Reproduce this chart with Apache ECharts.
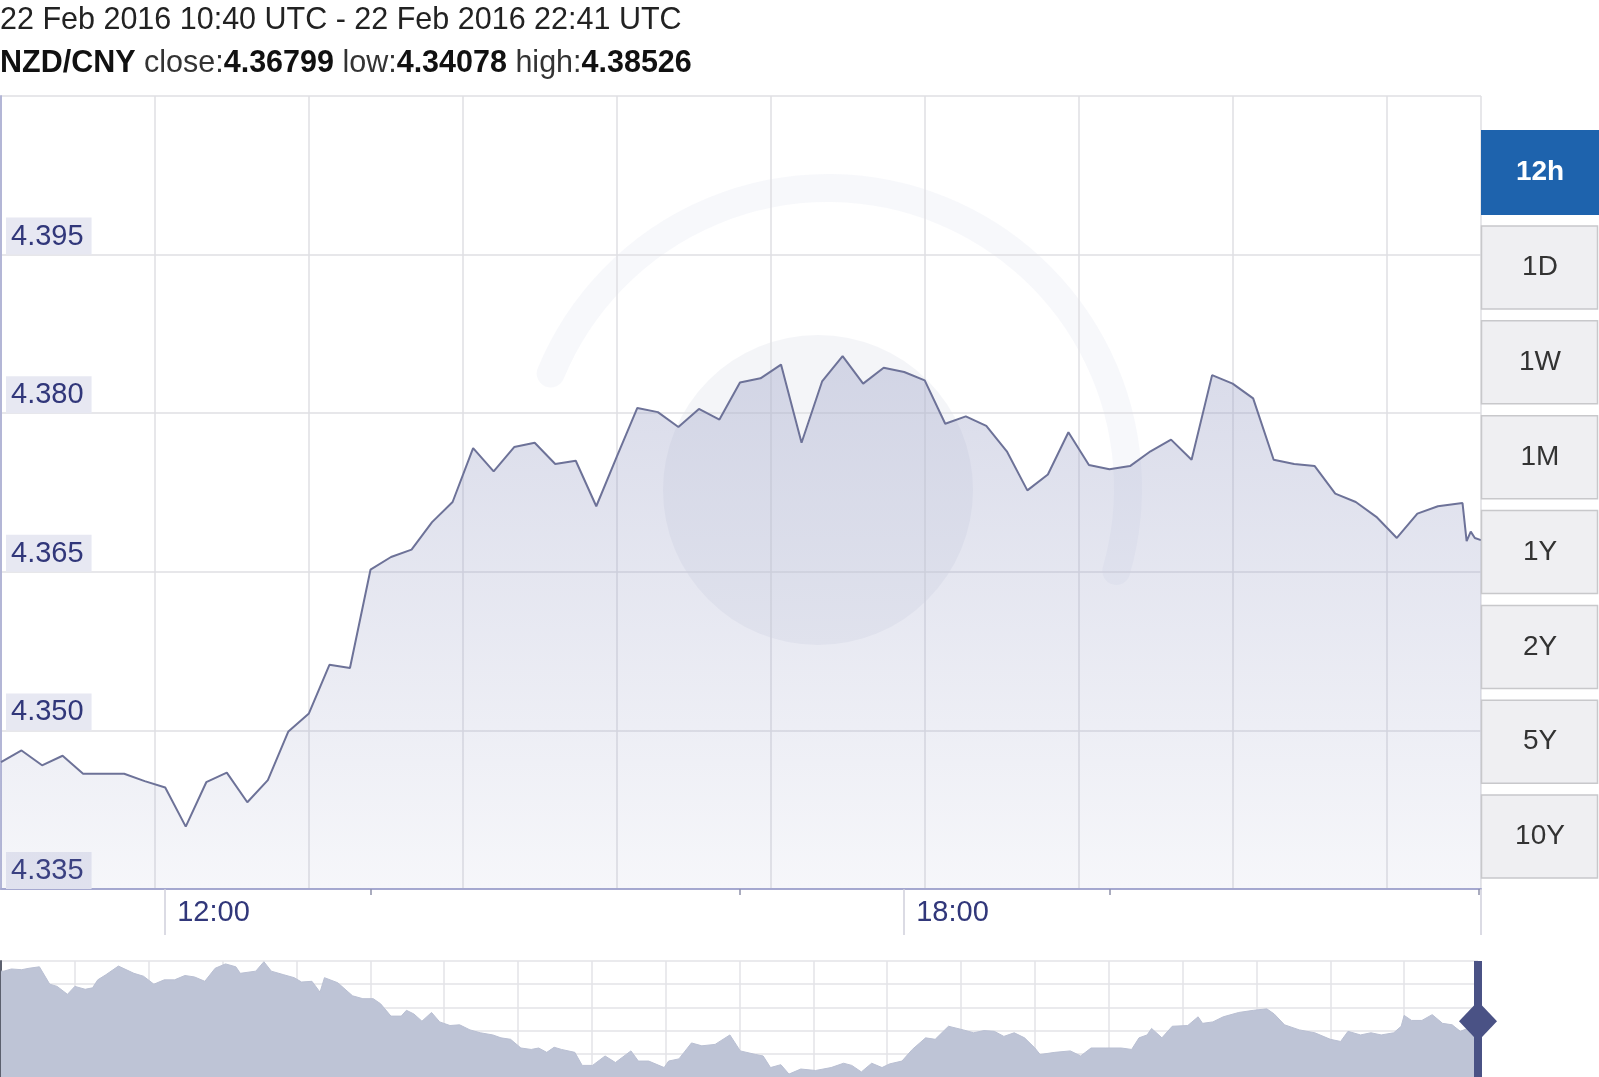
<!DOCTYPE html>
<html>
<head>
<meta charset="utf-8">
<script src="https://cdn.jsdelivr.net/npm/echarts@6/dist/echarts.min.js"></script>
<style>
  html, body { margin: 0; padding: 0; background: #ffffff; }
  #chart { width: 1599px; height: 1077px; }
</style>
</head>
<body>
<div id="chart"></div>
<script>
// ---- Data ----
const pairName = 'NZD/CNY';
const rangeText = '22 Feb 2016 10:40 UTC - 22 Feb 2016 22:41 UTC';
const summaryLabels = ['close', 'low', 'high'];
const summaryValues = ['4.36799', '4.34078', '4.38526'];

const times = [
  '10:40','10:50','11:00','11:10','11:20','11:30','11:40','11:50','12:00','12:10',
  '12:20','12:30','12:40','12:50','13:00','13:10','13:20','13:30','13:40','13:50',
  '14:00','14:10','14:20','14:30','14:40','14:50','15:00','15:10','15:20','15:30',
  '15:40','15:50','16:00','16:10','16:20','16:30','16:40','16:50','17:00','17:10',
  '17:20','17:30','17:40','17:50','18:00','18:10','18:20','18:30','18:40','18:50',
  '19:00','19:10','19:20','19:30','19:40','19:50','20:00','20:10','20:20','20:30',
  '20:40','20:50','21:00','21:10','21:20','21:30','21:40','21:50','22:00','22:10',
  '22:20','22:32','22:34','22:36','22:38','22:41'
];
const rates = [
  4.3470,4.3481,4.3467,4.3476,4.3459,4.3459,4.3459,4.3452,4.3446,4.3409,
  4.3451,4.3460,4.3432,4.3453,4.3499,4.3516,4.3562,4.3559,4.3652,4.3664,
  4.3671,4.3697,4.3716,4.3767,4.3745,4.3768,4.3772,4.3752,4.3755,4.3712,
  4.3759,4.3805,4.3801,4.3787,4.3804,4.3794,4.3829,4.3833,4.3846,4.3772,
  4.3830,4.3854,4.3828,4.3843,4.3839,4.3831,4.3790,4.3797,4.3788,4.3764,
  4.3727,4.3742,4.3782,4.3751,4.3747,4.3750,4.3764,4.3775,4.3756,4.3836,
  4.3828,4.3814,4.3756,4.3752,4.3750,4.3724,4.3716,4.3702,4.3682,4.3705,
  4.3712,4.3715,4.3679,4.3688,4.3682,4.3680
];

const timeLabels = ['12:00', '18:00'];
const minorTickTimes = ['13:40', '16:40', '19:40', '22:40'];
const yMin = 4.335, yMax = 4.410, yStep = 0.015;
const gridStepMinutes = 75;

// navigator (long-range overview) series
const navDays = [
  0,0.04,0.14,0.28,0.38,0.52,0.66,0.76,0.90,1.00,1.14,1.24,1.31,1.42,1.59,1.80,1.93,2.07,2.21,2.35,
  2.49,2.62,2.76,2.90,3.04,3.18,3.24,3.45,3.56,3.66,3.83,3.97,4.07,4.21,4.32,4.38,4.56,4.76,4.90,5.04,
  5.14,5.28,5.42,5.49,5.59,5.70,5.83,5.94,6.08,6.21,6.35,6.49,6.66,6.77,6.90,7.04,7.18,7.28,7.39,7.49,
  7.59,7.77,7.87,8.01,8.18,8.32,8.53,8.63,8.77,8.98,9.04,9.18,9.35,9.49,9.67,9.87,10.01,10.22,10.32,10.42,
  10.56,10.67,10.83,11.03,11.24,11.41,11.52,11.65,11.79,11.93,12.03,12.20,12.34,12.52,12.65,12.83,13.03,13.17,13.31,13.45,
  13.58,13.72,13.86,14.00,14.07,14.27,14.48,14.62,14.76,14.96,15.17,15.31,15.41,15.52,15.58,15.72,15.86,16.07,16.21,16.27,
  16.41,16.55,16.76,16.96,17.14,17.24,17.38,17.58,17.79,18.00,18.14,18.24,18.41,18.55,18.69,18.86,18.96,19.00,19.10,19.24,
  19.38,19.52,19.65,19.76,19.86,19.96
];
const navRates = [
  4.443,4.443,4.446,4.445,4.447,4.449,4.425,4.422,4.411,4.422,4.418,4.420,4.431,4.438,4.450,4.440,4.436,4.425,4.431,4.431,
  4.437,4.435,4.429,4.447,4.453,4.449,4.440,4.443,4.456,4.443,4.438,4.434,4.428,4.429,4.414,4.434,4.427,4.409,4.405,4.405,
  4.398,4.381,4.381,4.389,4.384,4.374,4.386,4.373,4.368,4.369,4.362,4.358,4.355,4.351,4.349,4.337,4.335,4.337,4.331,4.338,
  4.335,4.331,4.313,4.313,4.326,4.317,4.333,4.319,4.319,4.310,4.319,4.322,4.344,4.340,4.342,4.355,4.333,4.328,4.326,4.310,
  4.314,4.301,4.308,4.306,4.310,4.316,4.313,4.304,4.316,4.310,4.315,4.319,4.335,4.351,4.349,4.367,4.362,4.358,4.361,4.360,
  4.353,4.358,4.351,4.337,4.328,4.331,4.333,4.326,4.337,4.337,4.337,4.335,4.351,4.355,4.364,4.351,4.367,4.368,4.380,4.371,
  4.373,4.380,4.386,4.389,4.391,4.384,4.369,4.362,4.358,4.349,4.346,4.360,4.355,4.358,4.355,4.358,4.367,4.382,4.375,4.375,
  4.383,4.371,4.369,4.360,4.364,4.368
];
const navMin = 4.297, navMax = 4.457, navStep = 0.032, navEnd = 20;
const rangeButtons = ['12h', '1D', '1W', '1M', '1Y', '2Y', '5Y', '10Y'];

// ---- Helpers ----
function toMin(s) { const p = s.split(':').map(Number); return p[0] * 60 + p[1]; }
const t0 = toMin(times[0]);
const xMax = toMin(times[times.length - 1]) - t0;
const mainData = times.map((t, i) => [toMin(t) - t0, rates[i]]);
const labelValues = timeLabels.map(s => toMin(s) - t0);
const minorValues = minorTickTimes.map(s => toMin(s) - t0);
const navData = navDays.map((d, i) => [d, navRates[i]]);
function pad(n) { return (n < 10 ? '0' : '') + n; }
function fmtTime(v) { const m = Math.round(v) + t0; return pad(Math.floor(m / 60) % 24) + ':' + pad(m % 60); }

const FONT = "'Liberation Sans', Arial, sans-serif";
const labelColor = '#31377a';

// ---- Right-hand range buttons (UI chrome) ----
const buttonEls = [];
rangeButtons.forEach((name, i) => {
  const active = i === 0;
  const top = active ? 130 : 226 + (i - 1) * 94.85;
  const h = active ? 85 : 83;
  buttonEls.push({
    type: 'rect', z: 20,
    shape: { x: active ? 1481 : 1481.5, y: top, width: active ? 118 : 116, height: h },
    style: active ? { fill: '#1e63ad' } : { fill: '#efeff2', stroke: '#c8c8cb', lineWidth: 1.5 }
  });
  buttonEls.push({
    type: 'text', z: 21,
    x: 1540, y: top + h / 2,
    style: {
      text: name, fontFamily: FONT, fontSize: 28,
      fontWeight: active ? 'bold' : 'normal',
      fill: active ? '#ffffff' : '#333333',
      align: 'center', verticalAlign: 'middle'
    }
  });
});

const chart = echarts.init(document.getElementById('chart'), null, { renderer: 'canvas' });

const summaryRich = '{b|' + pairName + '} ' + summaryLabels.map((l, i) => l + ':{b|' + summaryValues[i] + '}').join(' ');

chart.setOption({
  animation: false,
  backgroundColor: '#ffffff',
  title: [
    {
      text: rangeText, left: 0, top: 5, padding: 0,
      textStyle: { fontFamily: FONT, fontSize: 30.5, fontWeight: 'normal', color: '#222222' }
    },
    {
      text: summaryRich, left: 0, top: 48, padding: 0,
      textStyle: {
        fontFamily: FONT, fontSize: 30.5, fontWeight: 'normal', color: '#333333',
        rich: { b: { fontFamily: FONT, fontSize: 30.5, fontWeight: 'bold', color: '#111111' } }
      }
    }
  ],
  graphic: [
    {
      type: 'arc', z: 0, silent: true,
      shape: { cx: 828, cy: 488, r: 300, startAngle: -2.75, endAngle: 0.28, clockwise: true },
      style: { stroke: 'rgba(150,156,196,0.075)', lineWidth: 28, fill: null, lineCap: 'round' }
    },
    {
      type: 'circle', z: 0, silent: true,
      shape: { cx: 818, cy: 490, r: 155 },
      style: { fill: 'rgba(120,126,172,0.08)' }
    }
  ].concat(buttonEls),
  grid: [
    { left: 1, right: 118, top: 96, bottom: 188, containLabel: false },
    { left: 1, right: 121, top: 961, bottom: -3, containLabel: false }
  ],
  xAxis: [
    {
      // labels + long ticks
      type: 'value', gridIndex: 0, min: 0, max: xMax, position: 'bottom',
      axisLine: { show: true, lineStyle: { color: '#a6a9d0', width: 2 } },
      axisTick: { show: true, customValues: labelValues.concat([xMax]), length: 46, lineStyle: { color: '#cfd0dc', width: 1.5 } },
      axisLabel: {
        show: true, customValues: labelValues, formatter: fmtTime,
        fontFamily: FONT, fontSize: 29, color: labelColor,
        align: 'left', padding: [0, 0, 0, 12], margin: 9
      },
      splitLine: { show: false }
    },
    {
      // short minor ticks
      type: 'value', gridIndex: 0, min: 0, max: xMax, position: 'bottom',
      axisLine: { show: false },
      axisTick: { show: true, customValues: minorValues, length: 6, lineStyle: { color: '#8e91aa', width: 1.5 } },
      axisLabel: { show: false },
      splitLine: { show: false }
    },
    {
      // vertical grid lines
      type: 'value', gridIndex: 0, min: 0, max: xMax, interval: gridStepMinutes, position: 'bottom',
      axisLine: { show: false }, axisTick: { show: false }, axisLabel: { show: false },
      splitLine: { show: true, lineStyle: { color: '#dfdfe3', width: 1.5 } }
    },
    {
      type: 'value', gridIndex: 1, min: 0, max: navEnd, interval: 1,
      axisLine: { show: false }, axisTick: { show: false }, axisLabel: { show: false },
      splitLine: { show: true, lineStyle: { color: '#e3e3e7', width: 1.5 } }
    }
  ],
  yAxis: [
    {
      type: 'value', gridIndex: 0, min: yMin, max: yMax, interval: yStep,
      axisLine: { show: true, lineStyle: { color: '#b3b6d6', width: 2 } },
      axisTick: { show: false },
      axisLabel: {
        show: true, inside: true, showMaxLabel: false,
        formatter: v => v.toFixed(3),
        fontFamily: FONT, fontSize: 29, color: labelColor,
        verticalAlign: 'bottom', lineHeight: 30,
        backgroundColor: '#e7e8f2', padding: [4, 8, 3, 5], margin: 5
      },
      splitLine: { show: true, lineStyle: { color: '#dfdfe3', width: 1.5 } }
    },
    {
      type: 'value', gridIndex: 1, min: navMin, max: navMax, interval: navStep,
      axisLine: { show: true, lineStyle: { color: '#5c606e', width: 2 } },
      axisTick: { show: false }, axisLabel: { show: false },
      splitLine: { show: true, lineStyle: { color: '#e3e3e7', width: 1.5 } }
    }
  ],
  series: [
    {
      type: 'line', name: pairName, xAxisIndex: 0, yAxisIndex: 0,
      data: mainData, showSymbol: false, symbol: 'none', z: 3,
      lineStyle: { color: '#6d7298', width: 2 },
      areaStyle: {
        origin: 'start',
        color: new echarts.graphic.LinearGradient(0, 0, 0, 1, [
          { offset: 0, color: 'rgba(150,156,196,0.52)' },
          { offset: 1, color: 'rgba(150,156,196,0.12)' }
        ])
      }
    },
    {
      type: 'line', name: 'navigator', xAxisIndex: 3, yAxisIndex: 1,
      data: navData, showSymbol: false, symbol: 'none', z: 3,
      lineStyle: { color: '#b9bfd2', width: 1 },
      areaStyle: { origin: 'start', color: '#bec4d6', opacity: 1 },
      markLine: {
        silent: true, symbol: 'none', label: { show: false },
        lineStyle: { color: '#4a5285', width: 8, type: 'solid' },
        data: [{ xAxis: navEnd }]
      },
      markPoint: {
        silent: true, symbol: 'diamond', symbolSize: [38, 40],
        itemStyle: { color: '#4a5285' }, label: { show: false },
        data: [{ coord: [navEnd, 4.374] }]
      }
    }
  ]
});
</script>
</body>
</html>
